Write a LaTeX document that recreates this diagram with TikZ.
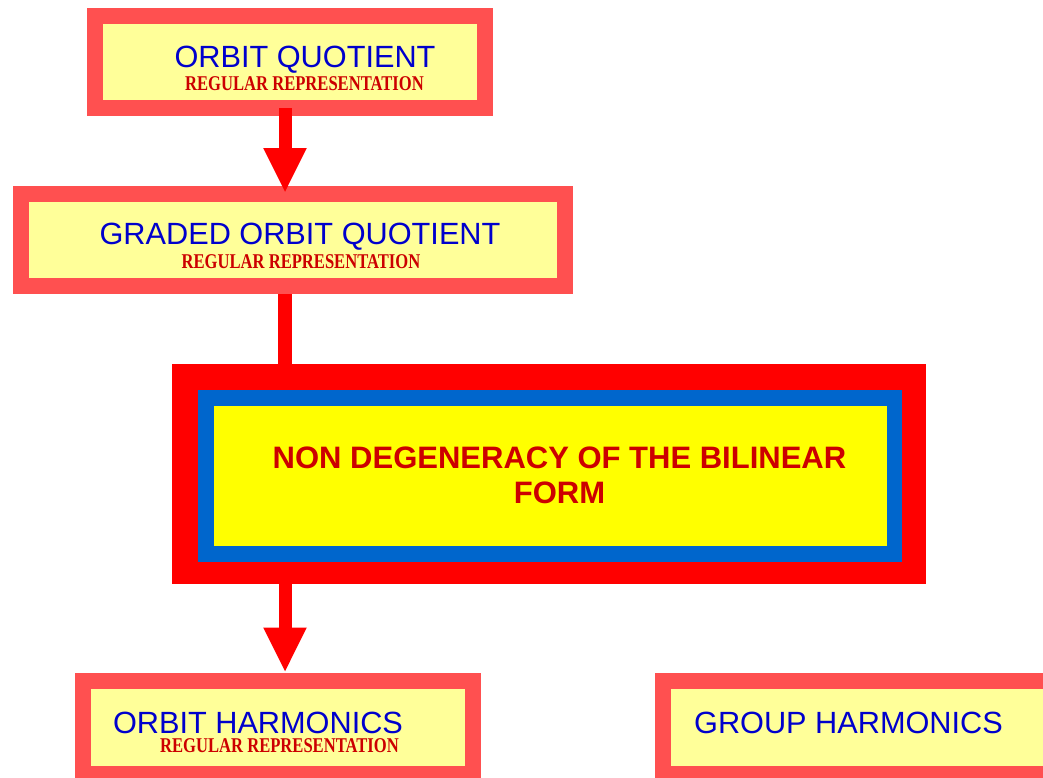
\documentclass[tikz,border=0pt]{standalone}
\usepackage{fontspec}
\setmainfont{Liberation Sans}
\newfontfamily\subfont[FakeStretch=0.79]{Liberation Serif}
\usetikzlibrary{arrows.meta}

\definecolor{boxred}{HTML}{FF5050}
\definecolor{boxyellow}{HTML}{FFFF99}
\definecolor{titleblue}{HTML}{0000CC}
\definecolor{subred}{HTML}{CC0000}
\definecolor{bigblue}{HTML}{0066CC}
\definecolor{bigyellow}{HTML}{FFFF00}

\tikzset{
  framebox/.style={draw=boxred, line width=16pt, fill=boxyellow, inner sep=0pt},
  plate/.style={inner sep=0pt, outer sep=0pt},
  title/.style={text=titleblue, font=\fontsize{30.7}{36}\selectfont, anchor=base, inner sep=0pt},
  subtitle/.style={text=subred, font=\subfont\bfseries\fontsize{21}{24}\selectfont, anchor=base, inner sep=0pt},
  bigarrow/.style={draw=red, line width=13pt, -{Triangle[width=40pt,length=45pt]}},
}

\begin{document}
\begin{tikzpicture}[x=1pt,y=-1pt]
    \useasboundingbox (0,0) rectangle (1043,777);
    \coordinate (col) at (285,0);

    % small boxes
    \node (Q) [framebox, minimum width=390pt, minimum height=92pt] at (290,62) {};
    \node (G) [framebox, minimum width=544pt, minimum height=92pt] at (293,240) {};
    \node (OH) [framebox, minimum width=390pt, minimum height=93pt] at (278,727) {};
    \node (GH) [framebox, minimum width=390pt, minimum height=93pt] at (858,727) {};

    \node (Qtitle) [title] at (305,67) {ORBIT QUOTIENT};
    \node (Qsub) [subtitle] at (304.5,90) {REGULAR REPRESENTATION};
    \node (Gtitle) [title] at (300,244) {GRADED ORBIT QUOTIENT};
    \node (Gsub) [subtitle] at (301,268) {REGULAR REPRESENTATION};
    \node (OHtitle) [title] at (258,733) {ORBIT HARMONICS};
    \node (OHsub) [subtitle] at (279.5,752) {REGULAR REPRESENTATION};
    \node (GHtitle) [title] at (848.5,733) {GROUP HARMONICS};

    % big box
    \node (ND) [plate, fill=red, minimum width=754pt, minimum height=220pt] at (549,474) {};
    \node (NDblue) [plate, fill=bigblue, minimum width=704pt, minimum height=172pt] at (550,476) {};
    \node (NDyellow) [plate, fill=bigyellow, minimum width=673pt, minimum height=140pt] at (550.5,476) {};
    \node (NDtext) [text=subred, font=\bfseries\fontsize{31}{35}\selectfont, align=center, inner sep=0pt]
        at (559.5,475.5) {NON DEGENERACY OF THE BILINEAR\\FORM};

    % connectors
    \draw[bigarrow, shorten <=-8pt, shorten >=-7pt] (Q.south -| col) -- (G.north -| col);
    \draw[red, line width=14pt] (G.south -| col) -- (ND.north -| col);
    \draw[bigarrow] (ND.south -| col) -- (OH.north -| col);
\end{tikzpicture}
\end{document}
